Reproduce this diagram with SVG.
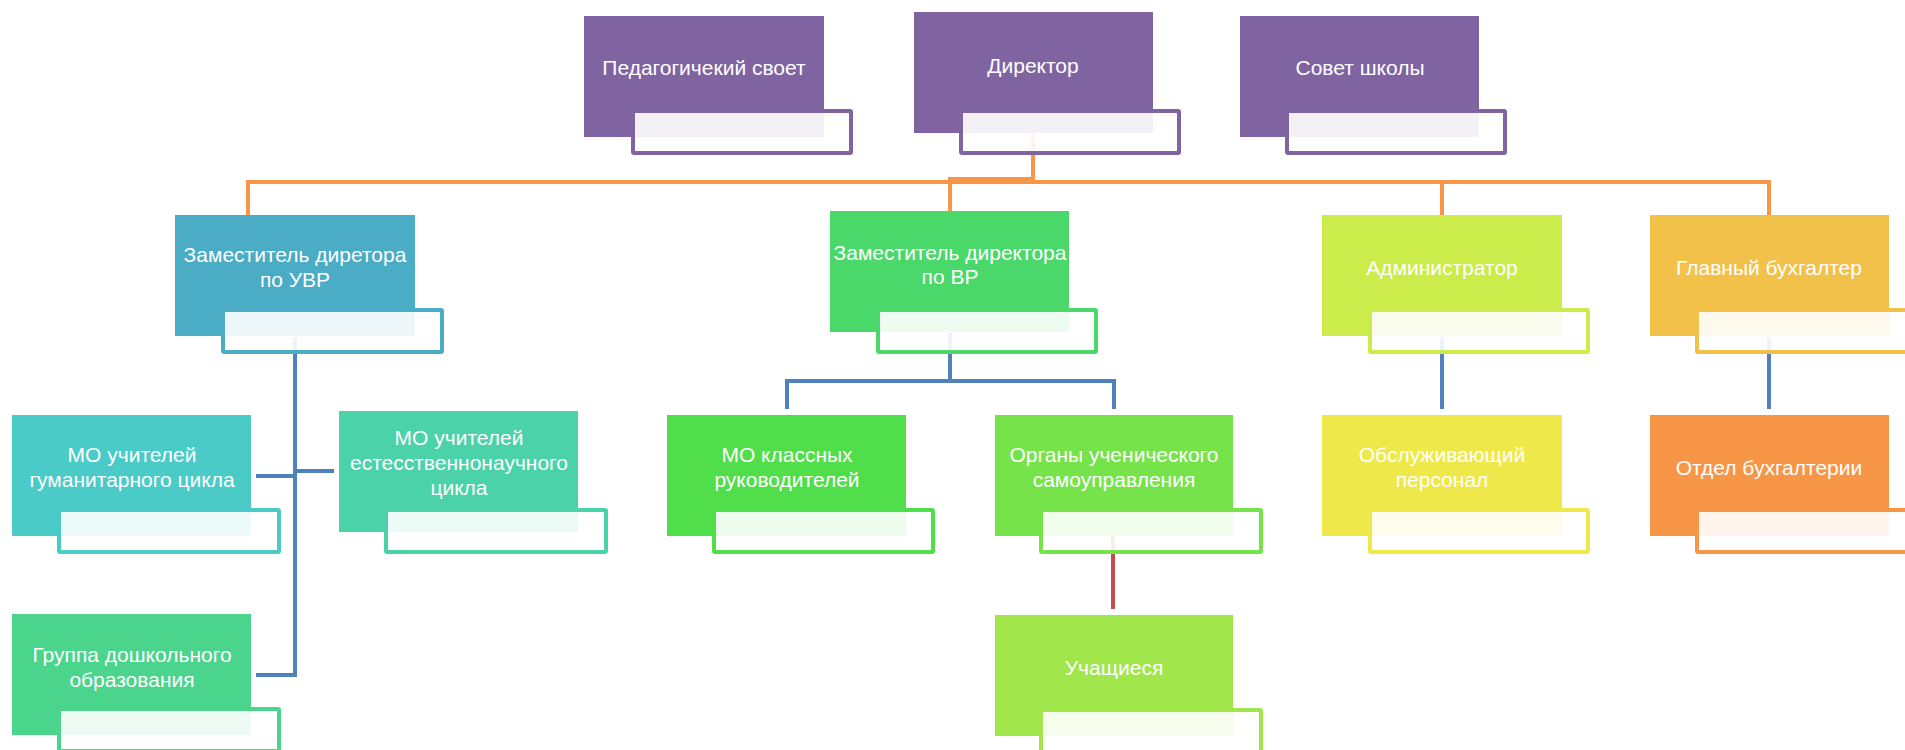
<svg xmlns="http://www.w3.org/2000/svg" width="1905" height="750" viewBox="0 0 1905 750">
<style>
.bg{fill:#fff}
.s{fill:#fff;fill-opacity:.9;stroke-width:4}
.t{font-family:"Liberation Sans",Arial,sans-serif;font-size:21px;fill:#fff;text-anchor:middle}
.or{fill:none;stroke:#F79646;stroke-width:4}
.bl{fill:none;stroke:#4F81BD;stroke-width:4}
.rd{fill:none;stroke:#C0504D;stroke-width:4}
.c1 .m{fill:#8064A2}.c1 .s{stroke:#8064A2}
.c2 .m{fill:#4BACC6}.c2 .s{stroke:#4BACC6}
.c3 .m{fill:#4AD86B}.c3 .s{stroke:#4AD86B}
.c4 .m{fill:#CBEC4A}.c4 .s{stroke:#CBEC4A}
.c5 .m{fill:#F2C14A}.c5 .s{stroke:#F2C14A}
.c6 .m{fill:#4BCBC8}.c6 .s{stroke:#4BCBC8}
.c7 .m{fill:#4BD2A9}.c7 .s{stroke:#4BD2A9}
.c8 .m{fill:#4BD48C}.c8 .s{stroke:#4BD48C}
.c9 .m{fill:#50DE4A}.c9 .s{stroke:#50DE4A}
.c10 .m{fill:#76E34B}.c10 .s{stroke:#76E34B}
.c11 .m{fill:#A1E74B}.c11 .s{stroke:#A1E74B}
.c12 .m{fill:#EFE84B}.c12 .s{stroke:#EFE84B}
.c13 .m{fill:#F79646}.c13 .s{stroke:#F79646}
</style>
<rect class="bg" x="0" y="0" width="1905" height="750"/>
<g id="connectors">
<path class="or" d="M248,215 V182 H1769 V215"/>
<path class="or" d="M1033,133 V182"/>
<path class="or" d="M1033,179 H950 V211"/>
<path class="or" d="M1442,182 V215"/>
<path class="bl" d="M295,337 V675 H256"/>
<path class="bl" d="M295,476 H256"/>
<path class="bl" d="M295,471 H334"/>
<path class="bl" d="M950,333 V381 H787 V409"/>
<path class="bl" d="M950,381 H1114 V409"/>
<path class="bl" d="M1442,337 V409"/>
<path class="bl" d="M1769,337 V409"/>
<path class="rd" d="M1113,536 V609"/>
</g>
<g id="n-ped" class="c1">
<rect class="m" x="584" y="16" width="240" height="121"/>
<rect class="s" x="633" y="111" width="218" height="42" rx="1"/>
<text class="t" x="704" y="75">Педагогичекий своет</text>
</g>
<g id="n-dir" class="c1">
<rect class="m" x="914" y="12" width="239" height="121"/>
<rect class="s" x="961" y="111" width="218" height="42" rx="1"/>
<text class="t" x="1033" y="73">Директор</text>
</g>
<g id="n-sovet" class="c1">
<rect class="m" x="1240" y="16" width="239" height="121"/>
<rect class="s" x="1287" y="111" width="218" height="42" rx="1"/>
<text class="t" x="1360" y="75">Совет школы</text>
</g>
<g id="n-uvr" class="c2">
<rect class="m" x="175" y="215" width="240" height="121"/>
<rect class="s" x="223" y="310" width="219" height="42" rx="1"/>
<text class="t" x="295" y="262">Заместитель диретора</text>
<text class="t" x="295" y="287">по УВР</text>
</g>
<g id="n-vr" class="c3">
<rect class="m" x="830" y="211" width="239" height="121"/>
<rect class="s" x="878" y="310" width="218" height="42" rx="1"/>
<text class="t" x="950" y="260">Заместитель директора</text>
<text class="t" x="950" y="284">по ВР</text>
</g>
<g id="n-admin" class="c4">
<rect class="m" x="1322" y="215" width="240" height="121"/>
<rect class="s" x="1370" y="310" width="218" height="42" rx="1"/>
<text class="t" x="1442" y="275">Администратор</text>
</g>
<g id="n-buh" class="c5">
<rect class="m" x="1650" y="215" width="239" height="121"/>
<rect class="s" x="1697" y="310" width="218" height="42" rx="1"/>
<text class="t" x="1769" y="275">Главный бухгалтер</text>
</g>
<g id="n-gum" class="c6">
<rect class="m" x="12" y="415" width="239" height="121"/>
<rect class="s" x="59" y="510" width="220" height="42" rx="1"/>
<text class="t" x="132" y="462">МО учителей</text>
<text class="t" x="132" y="487">гуманитарного цикла</text>
</g>
<g id="n-est" class="c7">
<rect class="m" x="339" y="411" width="239" height="121"/>
<rect class="s" x="386" y="510" width="220" height="42" rx="1"/>
<text class="t" x="459" y="445">МО учителей</text>
<text class="t" x="459" y="470">естесственнонаучного</text>
<text class="t" x="459" y="495">цикла</text>
</g>
<g id="n-dosh" class="c8">
<rect class="m" x="12" y="614" width="239" height="121"/>
<rect class="s" x="59" y="709" width="220" height="42" rx="1"/>
<text class="t" x="132" y="662">Группа дошкольного</text>
<text class="t" x="132" y="687">образования</text>
</g>
<g id="n-klass" class="c9">
<rect class="m" x="667" y="415" width="239" height="121"/>
<rect class="s" x="714" y="510" width="219" height="42" rx="1"/>
<text class="t" x="787" y="462">МО классных</text>
<text class="t" x="787" y="487">руководителей</text>
</g>
<g id="n-organ" class="c10">
<rect class="m" x="995" y="415" width="238" height="121"/>
<rect class="s" x="1041" y="510" width="220" height="42" rx="1"/>
<text class="t" x="1114" y="462">Органы ученического</text>
<text class="t" x="1114" y="487">самоуправления</text>
</g>
<g id="n-uch" class="c11">
<rect class="m" x="995" y="615" width="238" height="121"/>
<rect class="s" x="1041" y="710" width="220" height="42" rx="1"/>
<text class="t" x="1114" y="675">Учащиеся</text>
</g>
<g id="n-obsl" class="c12">
<rect class="m" x="1322" y="415" width="240" height="121"/>
<rect class="s" x="1370" y="510" width="218" height="42" rx="1"/>
<text class="t" x="1442" y="462">Обслуживающий</text>
<text class="t" x="1442" y="487">персонал</text>
</g>
<g id="n-otdel" class="c13">
<rect class="m" x="1650" y="415" width="239" height="121"/>
<rect class="s" x="1697" y="510" width="218" height="42" rx="1"/>
<text class="t" x="1769" y="475">Отдел бухгалтерии</text>
</g>
</svg>
